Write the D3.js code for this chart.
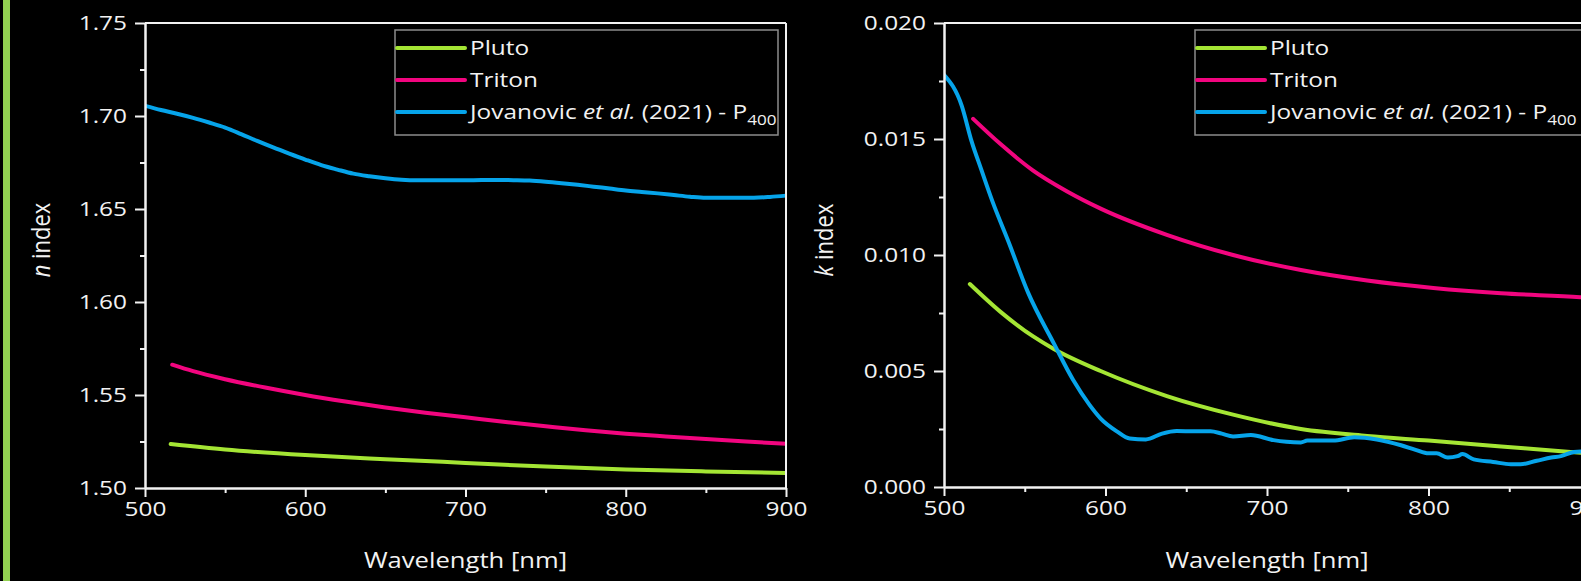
<!DOCTYPE html>
<html>
<head>
<meta charset="utf-8">
<script src="https://cdn.jsdelivr.net/npm/d3@7"></script>
<style>
  body { margin: 0; background: #000; overflow: hidden; }
  text { font-family: 'Open Sans', sans-serif; fill: #f2f2f2; }
</style>
</head>
<body>
<script>
const width = 1581;
const height = 581;
const stretch = 1.22; // the reference text is drawn wide

// wavelength [nm], n index
const nPluto = [[516, 1.5236], [550, 1.5207], [600, 1.5177], [650, 1.5155], [700, 1.5135], [750, 1.5115], [800, 1.5099], [850, 1.5089], [900, 1.5081]];
const nTriton = [[517, 1.5663], [530, 1.5628], [550, 1.5585], [575, 1.5540], [600, 1.5500], [625, 1.5465], [650, 1.5433], [675, 1.5405], [700, 1.5380], [725, 1.5355], [750, 1.5332], [775, 1.5310], [800, 1.5292], [825, 1.5277], [850, 1.5263], [875, 1.5250], [900, 1.5238]];
const nJovanovic = [[500, 1.7055], [510, 1.7032], [520, 1.7012], [530, 1.6990], [540, 1.6965], [550, 1.6938], [560, 1.6903], [570, 1.6866], [580, 1.6831], [590, 1.6798], [600, 1.6766], [610, 1.6736], [620, 1.6712], [630, 1.6690], [640, 1.6676], [650, 1.6665], [660, 1.6657], [670, 1.6654], [680, 1.6654], [690, 1.6654], [700, 1.6654], [710, 1.6656], [720, 1.6656], [730, 1.6655], [740, 1.6653], [750, 1.6647], [760, 1.6639], [770, 1.6630], [780, 1.6620], [790, 1.6610], [800, 1.6600], [810, 1.6592], [820, 1.6584], [830, 1.6575], [840, 1.6566], [850, 1.6560], [860, 1.6560], [870, 1.6561], [880, 1.6561], [890, 1.6565], [900, 1.6572]];

// wavelength [nm], k index
const kPluto = [[516, 0.00875], [535, 0.00755], [555, 0.00650], [568, 0.00595], [597, 0.00500], [638, 0.00392], [679, 0.00312], [721, 0.00250], [762, 0.00220], [800, 0.00200], [845, 0.00175], [886, 0.00152], [900, 0.00145]];
const kTriton = [[518, 0.01587], [535, 0.01478], [555, 0.01365], [576, 0.01275], [597, 0.01200], [638, 0.01087], [679, 0.01000], [721, 0.00935], [762, 0.00890], [803, 0.00858], [845, 0.00835], [894, 0.00818], [900, 0.00815]];
const kJovanovic = [[500, 0.01777], [511, 0.01643], [517, 0.01492], [523, 0.01370], [530, 0.01231], [540, 0.01056], [552, 0.00839], [568, 0.00619], [580, 0.00461], [590, 0.00355], [597, 0.00295], [607, 0.00240], [615, 0.00209], [625, 0.00205], [635, 0.00230], [644, 0.00241], [655, 0.00240], [665, 0.00240], [672, 0.00230], [679, 0.00218], [690, 0.00224], [704, 0.00202], [712, 0.00195], [721, 0.00192], [725, 0.00200], [741, 0.00200], [754, 0.00214], [768, 0.00205], [783, 0.00180], [792, 0.00160], [800, 0.00145], [805, 0.00145], [812, 0.00127], [818, 0.00133], [821, 0.00142], [828, 0.00119], [840, 0.00108], [851, 0.00098], [857, 0.00098], [867, 0.00113], [876, 0.00127], [882, 0.00133], [890, 0.00151], [895, 0.00153], [900, 0.00150]];

const seriesNames = ['Pluto', 'Triton', 'Jovanovic'];
const colors = ['#a4e534', '#f2057f', '#06a4ea'];
const xTicks = [500, 600, 700, 800, 900];
const xMinorTicks = [550, 650, 750, 850];
const nTicks = [1.50, 1.55, 1.60, 1.65, 1.70, 1.75];
const nMinorTicks = [1.525, 1.575, 1.625, 1.675, 1.725];
const kTicks = [0, 0.005, 0.010, 0.015, 0.020];
const kMinorTicks = [0.0025, 0.0075, 0.0125, 0.0175];

function main() {
  const svg = d3.select('body').append('svg').attr('width', width).attr('height', height);

  svg.append('rect').attr('x', 3).attr('y', 0).attr('width', 7).attr('height', height).attr('fill', '#92d050');

  drawPanel(svg, {
    left: 145, right: 786, top: 23, bottom: 488,
    domain: [1.5, 1.75], ticks: nTicks, minor: nMinorTicks, format: '.2f',
    series: [nPluto, nTriton, nJovanovic],
    label: 'n', labelX: 50,
    legend: { x: 395, w: 383 }
  });

  drawPanel(svg, {
    left: 944, right: 1590, top: 23, bottom: 487,
    domain: [0, 0.02], ticks: kTicks, minor: kMinorTicks, format: '.3f',
    series: [kPluto, kTriton, kJovanovic],
    label: 'k', labelX: 833,
    legend: { x: 1195, w: 392 }
  });
}

function widen(sel) {
  sel.each(function() {
    const t = d3.select(this);
    const x = +t.attr('x') || 0;
    t.attr('x', 0).attr('transform', `translate(${x},0) scale(${stretch},1)`);
  });
}

function drawPanel(svg, p) {
  const x = d3.scaleLinear().domain([500, 900]).range([p.left, p.right]);
  const y = d3.scaleLinear().domain(p.domain).range([p.bottom, p.top]);
  const g = svg.append('g');

  const clipId = 'clip' + p.left;
  svg.append('clipPath').attr('id', clipId)
    .append('rect').attr('x', p.left).attr('y', p.top - 5).attr('width', p.right - p.left).attr('height', p.bottom - p.top + 10);

  // lines
  p.series.forEach((data, i) => {
    g.append('path')
      .datum(data)
      .attr('clip-path', `url(#${clipId})`)
      .attr('fill', 'none')
      .attr('stroke', colors[i])
      .attr('stroke-width', 4)
      .attr('stroke-linecap', 'round')
      .attr('stroke-linejoin', 'round')
      .attr('d', d3.line().x(d => x(d[0])).y(d => y(d[1])).curve(d3.curveMonotoneX));
  });

  // axes
  const yAxis = g.append('g').attr('transform', `translate(${p.left},0)`)
    .call(d3.axisLeft(y).tickValues(p.ticks).tickFormat(d3.format(p.format)).tickSize(10).tickSizeOuter(0).tickPadding(8));
  const yMinor = g.append('g').attr('transform', `translate(${p.left},0)`)
    .call(d3.axisLeft(y).tickValues(p.minor).tickFormat('').tickSize(5).tickSizeOuter(0));
  const xAxis = g.append('g').attr('transform', `translate(0,${p.bottom})`)
    .call(d3.axisBottom(x).tickValues(xTicks).tickFormat(d3.format('d')).tickSize(9).tickSizeOuter(0).tickPadding(5));
  const xMinor = g.append('g').attr('transform', `translate(0,${p.bottom})`)
    .call(d3.axisBottom(x).tickValues(xMinorTicks).tickFormat('').tickSize(5).tickSizeOuter(0));

  [yAxis, yMinor, xAxis, xMinor].forEach(a => {
    a.selectAll('path, line').attr('stroke', '#f2f2f2').attr('stroke-width', 2);
    a.selectAll('text').attr('fill', '#f2f2f2').style('font-size', '20px').style('font-family', "'Open Sans', sans-serif");
  });
  widen(yAxis.selectAll('text'));
  widen(xAxis.selectAll('text'));

  // frame
  g.append('line').attr('x1', p.left).attr('x2', p.right).attr('y1', p.top).attr('y2', p.top)
    .attr('stroke', '#f2f2f2').attr('stroke-width', 2);
  g.append('line').attr('x1', p.right).attr('x2', p.right).attr('y1', p.top).attr('y2', p.bottom)
    .attr('stroke', '#f2f2f2').attr('stroke-width', 2);

  // axis titles
  const yt = g.append('text')
    .attr('transform', `translate(${p.labelX},240) rotate(-90) scale(1,1.15)`)
    .attr('text-anchor', 'middle')
    .style('font-size', '22px');
  yt.append('tspan').attr('font-style', 'italic').text(p.label);
  yt.append('tspan').text(' index');

  g.append('text')
    .attr('transform', `translate(${(p.left + p.right) / 2},568) scale(${stretch},1)`)
    .attr('text-anchor', 'middle')
    .style('font-size', '21px')
    .text('Wavelength [nm]');

  createLegend(g, p.legend);
}

function createLegend(g, l) {
  const top = 30;
  const rowY = [48, 80, 112];
  const legend = g.append('g');

  legend.append('rect')
    .attr('x', l.x).attr('y', top).attr('width', l.w).attr('height', 105)
    .attr('fill', '#000').attr('stroke', '#8c8c8c').attr('stroke-width', 1.5);

  legend.selectAll('line.item')
    .data(colors)
    .enter()
    .append('line')
    .attr('x1', l.x + 2).attr('x2', l.x + 70)
    .attr('y1', (_, i) => rowY[i]).attr('y2', (_, i) => rowY[i])
    .attr('stroke', d => d).attr('stroke-width', 4).attr('stroke-linecap', 'round');

  const labels = legend.selectAll('text')
    .data(seriesNames)
    .enter()
    .append('text')
    .attr('transform', (_, i) => `translate(${l.x + 75},${rowY[i] + 7}) scale(${stretch},1)`)
    .style('font-size', '20px');

  labels.each(function(d) {
    const t = d3.select(this);
    if (d === 'Jovanovic') {
      t.append('tspan').text('Jovanovic ');
      t.append('tspan').attr('font-style', 'italic').text('et al.');
      t.append('tspan').text(' (2021) - P');
      t.append('tspan').attr('dy', 6).style('font-size', '14px').text('400');
    } else {
      t.text(d);
    }
  });
}

main();
</script>
</body>
</html>
